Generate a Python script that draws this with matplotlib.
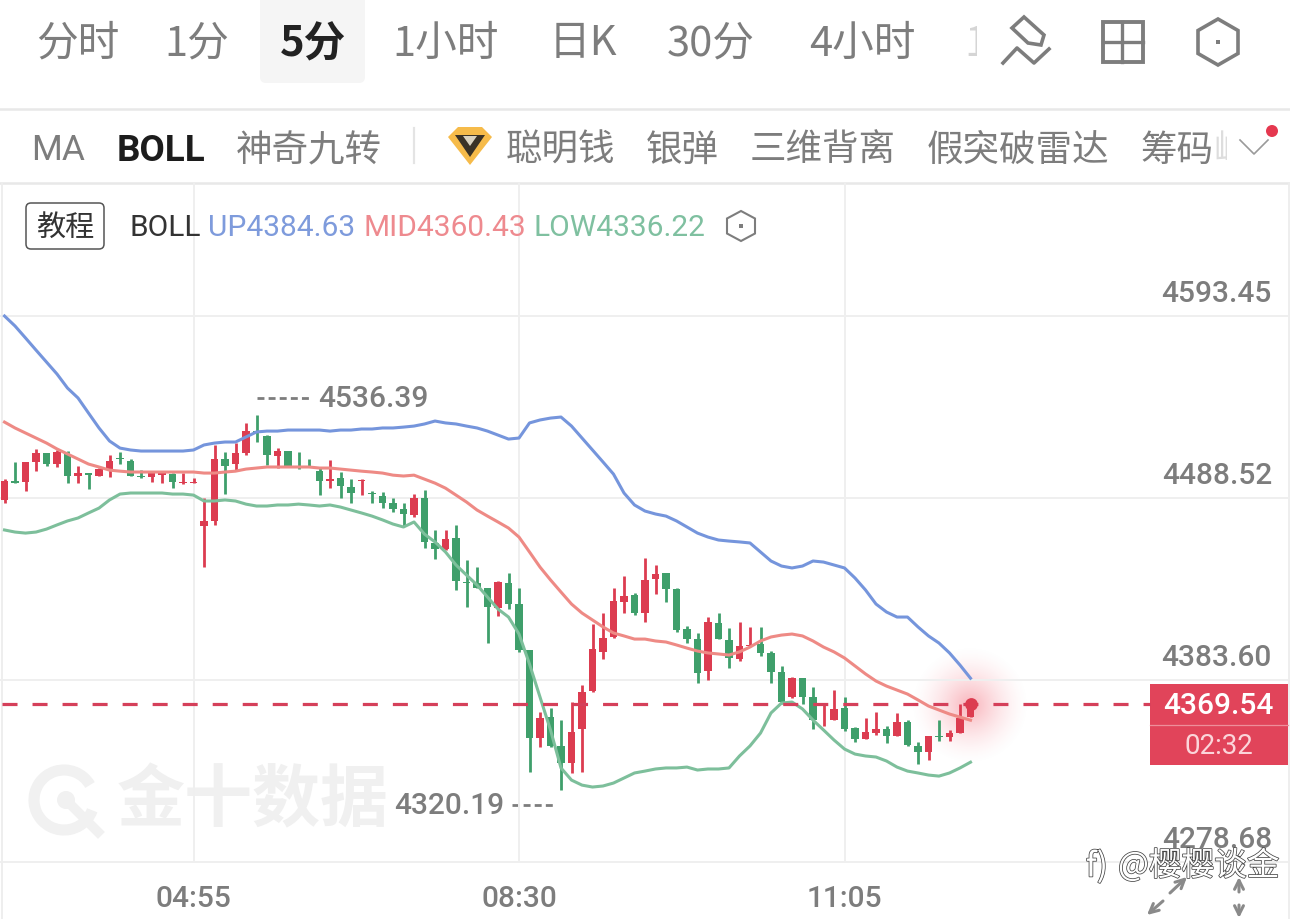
import numpy as np
import matplotlib
matplotlib.use('Agg')
import matplotlib.pyplot as plt
import matplotlib.patheffects as pe
from matplotlib.patches import Arc, Circle, FancyBboxPatch, Polygon, Rectangle

plt.rcParams['font.family'] = ['Noto Sans CJK SC', 'DejaVu Sans']

# candles, 5 minute bars
opens = [4487.4, 4498.3, 4497.7, 4509.3, 4514.5, 4508.1, 4513.9, 4501.2, 4502.9, 4501.2, 4504.6, 4511.6,
         4509.8, 4501.2, 4500.6, 4501.7, 4502.3, 4497.1, 4497.1, 4472.4, 4475.3, 4511.0, 4508.1, 4514.5,
         4527.1, 4524.3, 4512.7, 4515.6, 4506.9, 4506.9, 4504.0, 4498.3, 4500.0, 4494.8, 4498.3, 4491.4,
         4489.6, 4485.6, 4482.2, 4478.7, 4488.5, 4462.6, 4459.1, 4465.5, 4440.1, 4439.5, 4436.6, 4425.1,
         4439.5, 4427.4, 4400.9, 4350.2, 4362.2, 4345.6, 4335.7, 4355.4, 4377.3, 4399.8, 4408.4, 4428.6,
         4432.6, 4422.2, 4441.8, 4445.3, 4436.1, 4413.0, 4407.2, 4388.8, 4416.5, 4406.7, 4395.7, 4403.2,
         4404.4, 4399.2, 4388.2, 4373.8, 4384.7, 4373.8, 4369.2, 4360.5, 4367.4, 4355.9, 4349.6, 4353.0,
         4355.4, 4351.3, 4359.4, 4345.6, 4342.1, 4351.3, 4350.7, 4353.0, 4362.2]
highs = [4499.4, 4509.3, 4509.3, 4516.8, 4514.5, 4516.2, 4515.6, 4506.9, 4502.9, 4505.8, 4513.3, 4515.0,
         4511.0, 4504.6, 4503.5, 4502.9, 4502.9, 4502.9, 4500.0, 4488.5, 4519.1, 4515.0, 4520.2, 4531.8,
         4536.39, 4524.8, 4517.3, 4515.6, 4515.0, 4511.0, 4505.8, 4510.4, 4503.5, 4499.4, 4499.4, 4492.5,
         4492.0, 4488.5, 4485.6, 4490.8, 4493.1, 4470.1, 4470.1, 4473.0, 4452.8, 4448.7, 4436.6, 4440.7,
         4445.3, 4436.6, 4400.9, 4365.1, 4367.4, 4360.5, 4370.9, 4380.7, 4415.9, 4422.2, 4436.6, 4443.6,
         4433.8, 4453.9, 4449.9, 4445.3, 4436.6, 4414.7, 4410.7, 4419.9, 4422.2, 4413.6, 4417.0, 4414.2,
         4414.2, 4400.3, 4391.7, 4385.3, 4384.7, 4379.6, 4370.3, 4377.8, 4373.8, 4356.5, 4361.7, 4365.1,
         4357.1, 4364.6, 4360.5, 4347.9, 4351.3, 4360.5, 4354.8, 4369.8, 4369.8]
lows = [4485.6, 4497.1, 4492.5, 4504.0, 4506.9, 4506.4, 4497.1, 4497.1, 4493.7, 4501.2, 4500.6, 4508.1,
        4501.2, 4500.0, 4497.7, 4497.1, 4494.2, 4496.5, 4497.1, 4448.7, 4473.0, 4490.8, 4504.6, 4513.3,
        4520.8, 4507.5, 4505.8, 4506.4, 4505.2, 4506.4, 4490.2, 4494.2, 4488.5, 4485.6, 4490.2, 4485.6,
        4482.7, 4480.4, 4472.4, 4477.6, 4459.7, 4453.3, 4458.5, 4435.5, 4425.7, 4436.6, 4404.9, 4420.5,
        4424.5, 4399.8, 4330.6, 4345.0, 4345.0, 4320.19, 4330.0, 4330.6, 4376.7, 4395.7, 4407.8, 4422.2,
        4421.1, 4417.0, 4433.2, 4428.6, 4411.3, 4404.9, 4381.9, 4383.6, 4407.2, 4390.5, 4394.6, 4403.2,
        4397.5, 4381.9, 4369.8, 4373.2, 4369.8, 4355.4, 4357.1, 4360.5, 4354.2, 4347.9, 4349.6, 4351.9,
        4347.3, 4351.3, 4345.6, 4335.2, 4337.5, 4348.4, 4348.4, 4353.0, 4362.2]
closes = [4498.3, 4497.1, 4509.3, 4514.5, 4508.1, 4515.0, 4501.2, 4502.9, 4501.7, 4505.2, 4509.8, 4511.0,
          4501.2, 4500.6, 4502.9, 4502.9, 4497.7, 4497.7, 4497.7, 4475.3, 4511.0, 4506.9, 4514.5, 4527.1,
          4526.6, 4513.3, 4515.6, 4506.9, 4506.4, 4506.4, 4498.3, 4499.4, 4495.4, 4491.4, 4498.9, 4490.8,
          4485.6, 4482.2, 4479.3, 4488.5, 4463.2, 4459.1, 4464.9, 4440.7, 4439.5, 4436.6, 4425.7, 4440.1,
          4427.4, 4400.9, 4350.2, 4361.7, 4345.6, 4335.7, 4353.6, 4376.7, 4401.5, 4407.8, 4429.1, 4432.0,
          4422.2, 4441.3, 4444.7, 4436.1, 4412.4, 4407.2, 4387.6, 4417.0, 4407.2, 4396.3, 4403.2, 4403.8,
          4399.2, 4388.2, 4370.9, 4384.7, 4373.8, 4360.5, 4370.3, 4366.9, 4355.4, 4349.6, 4353.6, 4355.4,
          4351.3, 4359.4, 4346.1, 4342.1, 4351.3, 4350.7, 4353.0, 4361.7, 4369.54]

# bollinger bands
boll_up = [4593.45, 4587.7, 4580.8, 4573.8, 4566.9, 4560.0, 4551.9, 4546.2, 4537.5, 4528.9, 4521.4, 4517.3,
           4516.2, 4515.6, 4515.6, 4515.6, 4515.6, 4515.6, 4516.2, 4519.1, 4520.2, 4520.8, 4520.8, 4523.7,
           4526.6, 4527.1, 4527.1, 4527.7, 4527.7, 4527.7, 4527.7, 4527.1, 4527.7, 4527.7, 4528.3, 4528.3,
           4528.9, 4528.9, 4529.4, 4530.0, 4531.2, 4532.9, 4531.8, 4531.2, 4530.0, 4528.9, 4527.1, 4524.8,
           4522.5, 4523.1, 4531.8, 4533.5, 4534.6, 4535.2, 4530.0, 4523.1, 4516.2, 4509.3, 4502.3, 4491.4,
           4484.5, 4481.0, 4479.3, 4478.1, 4475.3, 4471.8, 4468.3, 4466.0, 4464.3, 4463.7, 4463.2, 4462.6,
           4457.4, 4452.2, 4449.3, 4448.2, 4449.3, 4452.2, 4451.6, 4449.9, 4448.2, 4442.4, 4435.5, 4427.4,
           4422.8, 4419.9, 4419.9, 4414.2, 4409.0, 4404.9, 4399.2, 4392.2, 4384.63]
boll_mid = [4532.3, 4528.9, 4526.0, 4523.1, 4520.2, 4516.8, 4513.9, 4511.0, 4508.1, 4506.4, 4504.6, 4504.0,
            4503.5, 4503.5, 4503.5, 4503.5, 4503.5, 4503.5, 4503.5, 4502.9, 4502.9, 4503.5, 4504.0, 4505.2,
            4505.8, 4506.4, 4506.4, 4506.4, 4506.4, 4506.4, 4505.8, 4505.8, 4505.2, 4504.6, 4504.0, 4503.5,
            4502.9, 4501.7, 4501.2, 4501.7, 4499.4, 4497.1, 4494.2, 4490.2, 4486.2, 4481.6, 4478.1, 4474.7,
            4471.2, 4466.0, 4457.4, 4448.7, 4441.3, 4434.3, 4427.4, 4422.2, 4418.2, 4414.2, 4410.7, 4409.0,
            4407.2, 4407.2, 4406.1, 4405.5, 4403.8, 4402.0, 4400.3, 4399.2, 4398.6, 4398.0, 4399.8, 4402.6,
            4406.1, 4408.4, 4409.5, 4410.1, 4409.0, 4406.1, 4402.6, 4399.8, 4396.3, 4391.7, 4387.1, 4383.0,
            4380.1, 4377.8, 4375.5, 4372.1, 4368.6, 4366.3, 4364.0, 4362.2, 4360.43]
boll_low = [4470.1, 4468.9, 4468.3, 4468.9, 4470.6, 4473.0, 4475.3, 4477.0, 4479.9, 4482.7, 4487.4, 4490.8,
            4491.4, 4491.4, 4491.4, 4491.4, 4490.8, 4490.8, 4490.2, 4486.8, 4486.8, 4487.4, 4486.8, 4485.0,
            4483.9, 4483.9, 4484.5, 4484.5, 4485.0, 4484.5, 4483.9, 4484.5, 4483.3, 4481.6, 4479.9, 4478.1,
            4475.9, 4473.5, 4471.8, 4474.7, 4467.7, 4463.2, 4457.4, 4449.9, 4444.1, 4438.4, 4431.4, 4424.5,
            4419.9, 4410.1, 4392.8, 4373.8, 4354.8, 4332.9, 4325.9, 4323.0, 4321.9, 4322.5, 4324.2, 4327.1,
            4330.0, 4331.1, 4332.3, 4332.9, 4332.9, 4333.4, 4331.7, 4332.3, 4332.3, 4332.9, 4339.8, 4345.6,
            4353.0, 4364.6, 4370.3, 4370.9, 4366.9, 4360.5, 4354.8, 4349.0, 4343.8, 4340.9, 4339.8, 4339.2,
            4336.9, 4333.4, 4331.1, 4330.0, 4328.8, 4328.2, 4330.0, 4332.9, 4336.22]

y_ticks = [4593.45, 4488.52, 4383.60, 4278.68]
y_labels = ['4593.45', '4488.52', '4383.60', '4278.68']
x_ticks = [18, 49, 80]
x_labels = ['04:55', '08:30', '11:05']
last_price = 4369.54
high_mark = 4536.39
low_mark = 4320.19

tabs = ['分时', '1分', '5分', '1小时', '日K', '30分', '4小时']
tab_x = [78, 197, 313, 446, 583, 711, 862]
indicators = ['MA', 'BOLL', '神奇九转', '聪明钱', '银弹', '三维背离', '假突破雷达', '筹码']
indicator_x = [58, 161, 309, 560, 682, 823, 1018, 1177]

RED = '#dc3c50'
GREEN = '#3f9f6b'
GRAY = '#7d7d7d'
GRID = '#efefef'
NUM_FONT = ['Roboto', 'DejaVu Sans']
NUM_SIZE = 21.5

fig = plt.figure(figsize=(12.9, 9.19), dpi=100, facecolor='white')

# pixel canvas for the app chrome, sits behind the chart
ui = fig.add_axes([0, 0, 1, 1], zorder=0)
ui.axis('off')

chart_top = 183
ax = fig.add_axes([0, 0, 1, (919 - chart_top) / 919], zorder=1)
ax.patch.set_alpha(0)
ax.axis('off')

# 10.5 px per bar, bar 0 at x=4.5. price scale from the axis labels
bar_px = 10.5
ax.set_xlim(-4.5 / bar_px, (1290 - 4.5) / bar_px)
per_px = (y_ticks[0] - y_ticks[3]) / (862 - 316)
ax.set_ylim(y_ticks[3] - (919 - 862) * per_px, y_ticks[3] + (862 - chart_top) * per_px)
ymax = ax.get_ylim()[1]

for t in y_ticks:
    ax.axhline(t, color=GRID, lw=1.4, zorder=1)
ax.vlines(x_ticks, y_ticks[3], ymax, color=GRID, lw=1.4, zorder=1)

# candles
idx = np.arange(len(opens))
o, h, l, c = map(np.array, (opens, highs, lows, closes))
colors = [RED if cc >= oo else GREEN for oo, cc in zip(o, c)]
ax.vlines(idx, l, h, color=colors, lw=2.0, zorder=3)
ax.bar(idx, np.abs(c - o), bottom=np.minimum(o, c), width=0.68, color=colors, zorder=3)

# bands
ax.plot(idx, boll_up, color='#7595dc', lw=2.2, zorder=4)
ax.plot(idx, boll_mid, color='#ee8a85', lw=2.2, zorder=4)
ax.plot(idx, boll_low, color='#7dbf9b', lw=2.2, zorder=4)

# last price line and marker
ax.plot([-2.5 / bar_px, 1150 / bar_px - 0.43], [last_price, last_price], color='#d5405a', lw=2.3,
        dashes=(4.7, 4.7), dash_capstyle='butt', zorder=5)
ax.scatter([idx[-1]], [last_price], s=85, color=RED, zorder=6, linewidths=0)

# axis labels
for t, s in zip(y_ticks, y_labels):
    ax.annotate(s, xy=(1272 / 1290, t), xycoords=ax.get_yaxis_transform(), xytext=(0, 16),
                textcoords='offset points', ha='right', va='center', fontsize=NUM_SIZE,
                family=NUM_FONT, color=GRAY, fontweight='medium', zorder=7)
for t, s in zip(x_ticks, x_labels):
    ax.text(t, (919 - 899) / (919 - chart_top), s, transform=ax.get_xaxis_transform(), ha='center',
            va='center', fontsize=NUM_SIZE, family=NUM_FONT, color=GRAY, fontweight='medium', zorder=7)

# high / low marks
ax.annotate(f'{high_mark:.2f}', xy=(24, high_mark), xytext=(318, 520), xycoords='data',
            textcoords='figure pixels', fontsize=NUM_SIZE, family=NUM_FONT, color=GRAY, fontweight='medium',
            ha='left', va='center', zorder=7)
ax.annotate(f'{low_mark:.2f}', xy=(53, low_mark), xytext=(394, 113), xycoords='data',
            textcoords='figure pixels', fontsize=NUM_SIZE, family=NUM_FONT, color=GRAY, fontweight='medium',
            ha='left', va='center', zorder=7)


def px_text(x, y, s, size, color=GRAY, ha='center', weight='normal', family=None, **kw):
    return ax.text(x, y, s, transform=ui.transData, fontsize=size, color=color, ha=ha, va='center',
                   fontweight=weight, family=family or plt.rcParams['font.family'], clip_on=False, **kw)


def hexagon(cx, cy, rx, ry, lw):
    pts = [(cx, cy - ry), (cx + rx, cy - ry / 2), (cx + rx, cy + ry / 2),
           (cx, cy + ry), (cx - rx, cy + ry / 2), (cx - rx, cy - ry / 2)]
    ui.add_patch(Polygon(pts, closed=True, fill=False, ec=GRAY, lw=lw))
    ui.add_patch(Rectangle((cx - 2, cy - 2), 4, 4, color=GRAY, lw=0))


# top bar
ui.add_patch(FancyBboxPatch((260, -8), 105, 91, boxstyle='round,pad=0,rounding_size=6', fc='#f5f5f5', ec='none'))
for s, x in zip(tabs, tab_x):
    if s == '5分':
        px_text(x, 44, s, 30, color='#222222', weight='bold')
    else:
        px_text(x, 44, s, 30)
t = px_text(964, 44, '1', 30, color='#d5d5d5', ha='left')
t.set_clip_path(Rectangle((960, 0), 17, 90, transform=ui.transData))
t.set_clip_on(True)

# top right icons
ui.add_patch(Polygon([(1024, 17), (1044, 35), (1041, 45), (1028, 43), (1012, 28)], closed=True, fill=False, ec=GRAY, lw=2.6))
ui.plot([1003, 1017, 1034, 1049], [63, 48, 63, 49], color=GRAY, lw=2.6)
ui.add_patch(Rectangle((1103, 22), 40, 40, fill=False, ec=GRAY, lw=2.8))
ui.plot([1122, 1122], [22, 62], color=GRAY, lw=2.4)
ui.plot([1103, 1143], [42, 42], color=GRAY, lw=2.4)
hexagon(1218, 42, 20, 23, 2.6)

ui.plot([0, 1290], [109, 109], color='#e8e8e8', lw=1.8)
ui.plot([0, 1290], [183, 183], color='#e8e8e8', lw=1.8)
ui.plot([1.5, 1.5], [183, 919], color='#eeeeee', lw=1.4)
ui.plot([1288.5, 1288.5], [183, 919], color='#eeeeee', lw=1.4)

# indicator bar
for s, x in zip(indicators, indicator_x):
    if s == 'BOLL':
        px_text(x, 151, s, 26.5, color='#1c1c1c', weight='bold', family=NUM_FONT)
    elif s == 'MA':
        px_text(x, 151, s, 25.5, family=['Roboto', 'DejaVu Sans'])
    else:
        px_text(x, 151, s, 26.3)
t = px_text(1213, 151, '峰', 26.3, color='#dddddd', ha='left')
t.set_clip_path(Rectangle((1212, 120), 15, 60, transform=ui.transData))
t.set_clip_on(True)
ui.plot([414, 414], [128, 163], color='#e4e4e4', lw=1.6)
ui.add_patch(Polygon([(448, 137), (458, 127), (482, 127), (492, 137), (470, 165)], closed=True, fc='#f6bb4a', ec='none'))
ui.add_patch(Polygon([(455, 135), (485, 135), (470, 157)], closed=True, fc='#3a3226', ec='none'))
ui.add_patch(Polygon([(463, 136), (477, 136), (470, 146)], closed=True, fc='#d9d2c0', ec='none'))
ui.plot([1240, 1254, 1268], [140, 154, 140], color='#9a9a9a', lw=1.2)
ui.add_patch(Circle((1272, 131), 6, color='#e5384f', lw=0))

# legend row
ui.add_patch(FancyBboxPatch((26, 203), 78, 46, boxstyle='round,pad=0,rounding_size=5', fc='white', ec='#555555', lw=1.1))
px_text(65, 228, '教程', 21, color='#333333')
legend_font = ['Roboto', 'DejaVu Sans']
px_text(129, 228, 'BOLL', 21.5, color='#333333', ha='left', family=legend_font)
px_text(208, 228, 'UP4384.63', 21.5, color='#7e9bdc', ha='left', family=legend_font)
px_text(363, 228, 'MID4360.43', 21.5, color='#ee8a8f', ha='left', family=legend_font)
px_text(533, 228, 'LOW4336.22', 21.5, color='#7fc0a0', ha='left', family=legend_font)
hexagon(741, 226, 14, 15, 1.5)

# watermark
ui.add_patch(Arc((64, 800), 60, 60, theta1=20, theta2=330, color='#f1f1f1', lw=8))
ui.add_patch(Circle((66, 800), 9, color='#f1f1f1', lw=0))
ui.plot([72, 98], [806, 832], color='#f1f1f1', lw=7)
ui.text(253, 802, '金十数据', fontsize=49, fontweight='bold', color='#f0f0f0', ha='center', va='center')

# high / low dashes
ui.plot([257, 310], [398, 398], color=GRAY, lw=2, dashes=(2.5, 1.5))
ui.plot([512, 555], [805, 805], color=GRAY, lw=2, dashes=(2.5, 1.5))

# glow behind last price
yy, xx = np.mgrid[0:120, 0:120]
dist = np.clip(np.hypot(xx - 59.5, yy - 59.5) / 60, 0, 1)
glow = np.zeros((120, 120, 4))
glow[..., :3] = matplotlib.colors.to_rgb('#f04a5c')
glow[..., 3] = 0.42 * (1 - dist) ** 1.6
ui.imshow(glow, extent=(910, 1030, 765, 645), aspect='auto', interpolation='bilinear', zorder=2)

# price box
ui.add_patch(Rectangle((1150, 684), 138, 81, color='#e1445a', lw=0, zorder=3))
ui.plot([1150, 1288], [725, 725], color='#ee8e9a', lw=0.9, zorder=4)
px_text(1218, 706, f'{last_price:.2f}', NUM_SIZE, color='white', weight='medium', family=NUM_FONT)
px_text(1219, 746, '02:32', 20, color='#fbd5da', family=NUM_FONT)

# repost mark and stray arrows, bottom right
outline = [pe.withStroke(linewidth=1.1, foreground='#444444')]
px_text(1118, 866, '@樱樱谈金', 23.5, color='white', ha='left', zorder=9, path_effects=outline)
px_text(1097, 867, 'f)', 24, color='white', zorder=9, path_effects=outline, style='italic')
for tail, tip in [((1170, 893), (1187, 877)), ((1163, 901), (1147, 915)),
                  ((1239, 892), (1239, 877)), ((1239, 905), (1239, 918))]:
    ui.annotate('', xy=tip, xytext=tail, arrowprops=dict(arrowstyle='->', color='#8a8a8a', lw=2.2, mutation_scale=16, shrinkA=0, shrinkB=0))

ui.set_xlim(0, 1290)
ui.set_ylim(919, 0)

fig.savefig('out.png', dpi=100)
